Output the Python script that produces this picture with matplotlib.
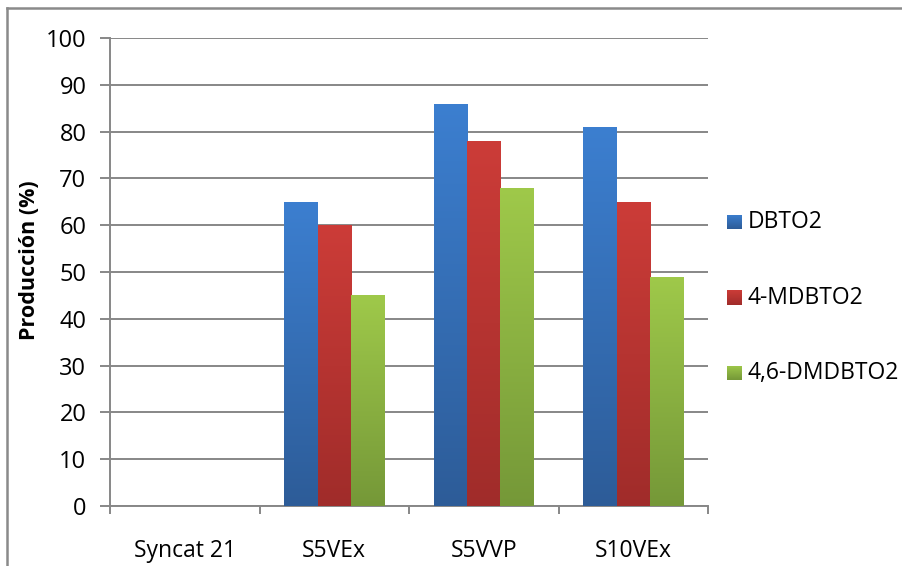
import numpy as np
import matplotlib
matplotlib.use("Agg")
import matplotlib.pyplot as plt
from matplotlib.lines import Line2D
from matplotlib.colors import LinearSegmentedColormap

plt.rcParams['font.family'] = ['Open Sans', 'DejaVu Sans']

categories = ["Syncat 21", "S5VEx", "S5VVP", "S10VEx"]
series_names = ["DBTO2", "4-MDBTO2", "4,6-DMDBTO2"]
dbto2 = [0, 65, 86, 81]
mdbto2 = [0, 60, 78, 65]
dmdbto2 = [0, 45, 68, 49]
y_ticks = [0, 10, 20, 30, 40, 50, 60, 70, 80, 90, 100]

# top / bottom colours of each series' vertical gradient
grad_colors = [("#3C7FD0", "#2D5C98"),
               ("#CC3C38", "#A02C2A"),
               ("#9FC94A", "#759838")]

W, H, DPI = 902, 566, 100
fig = plt.figure(figsize=(W / DPI, H / DPI), dpi=DPI)
fig.patch.set_facecolor("white")

def px(x0, y0, x1, y1):
    return [x0 / W, 1 - y1 / H, (x1 - x0) / W, (y1 - y0) / H]

ax = fig.add_axes(px(110, 38, 708, 506))
grid_c = "#878787"

bw = 1 / 4.5
x = np.arange(len(categories)) + 0.5
values = [dbto2, mdbto2, dmdbto2]

for i, vals in enumerate(values):
    cmap = LinearSegmentedColormap.from_list("g%d" % i, [grad_colors[i][1], grad_colors[i][0]])
    bars = ax.bar(x + (i - 1) * bw, vals, width=bw, facecolor="none", edgecolor="none", zorder=3)
    grad = np.linspace(0, 1, 256).reshape(-1, 1)
    for b in bars:
        h = b.get_height()
        if h <= 0:
            continue
        x0 = b.get_x()
        im = ax.imshow(grad, cmap=cmap, origin="lower", aspect="auto",
                       extent=[x0, x0 + b.get_width(), 0, h], zorder=3,
                       interpolation="bilinear")
        im.set_clip_path(b)

ax.set_xlim(0, len(categories))
ax.set_ylim(0, 100)
ax.set_yticks(y_ticks)
ax.set_yticklabels([str(t) for t in y_ticks])
ax.set_xticks(np.arange(len(categories) + 1))
ax.set_xticklabels([])
ax.set_xticks(x, minor=True)
ax.set_xticklabels(categories, minor=True)
ax.tick_params(axis="x", which="minor", length=0, pad=24, labelsize=16.5)
ax.tick_params(axis="x", which="major", length=6, width=1.4, color=grid_c, direction="out")
ax.tick_params(axis="y", length=7, width=1.4, color=grid_c, direction="out", pad=10, labelsize=17)

ax.yaxis.grid(True, color=grid_c, linewidth=1.4, zorder=0)
ax.set_axisbelow(True)
for s in ["top", "right"]:
    ax.spines[s].set_visible(False)
for s in ["left", "bottom"]:
    ax.spines[s].set_color(grid_c)
    ax.spines[s].set_linewidth(1.4)

fig.text(30 / W, 1 - 260 / H, "Producción (%)", rotation=90, ha="center", va="center",
         fontsize=15.5, fontweight="bold")

# legend: gradient swatches + labels
leg_y = [222, 298, 373]
for i, name in enumerate(series_names):
    cy = leg_y[i]
    sax = fig.add_axes(px(727, cy - 7.5, 742, cy + 7.5))
    cmap = LinearSegmentedColormap.from_list("l%d" % i, [grad_colors[i][1], grad_colors[i][0]])
    sax.imshow(np.linspace(0, 1, 64).reshape(-1, 1), cmap=cmap, origin="lower", aspect="auto")
    sax.set_axis_off()
    fig.text(748 / W, 1 - cy / H, name, ha="left", va="center", fontsize=16.5)

# chart-area frame
fig.add_artist(Line2D([7 / W, 7 / W], [0, 1 - 8 / H], color="#8a8a8a", linewidth=1.8,
                      transform=fig.transFigure))
fig.add_artist(Line2D([7 / W, 1], [1 - 8 / H, 1 - 8 / H], color="#8a8a8a", linewidth=1.8,
                      transform=fig.transFigure))

fig.savefig("out.png", dpi=DPI)
